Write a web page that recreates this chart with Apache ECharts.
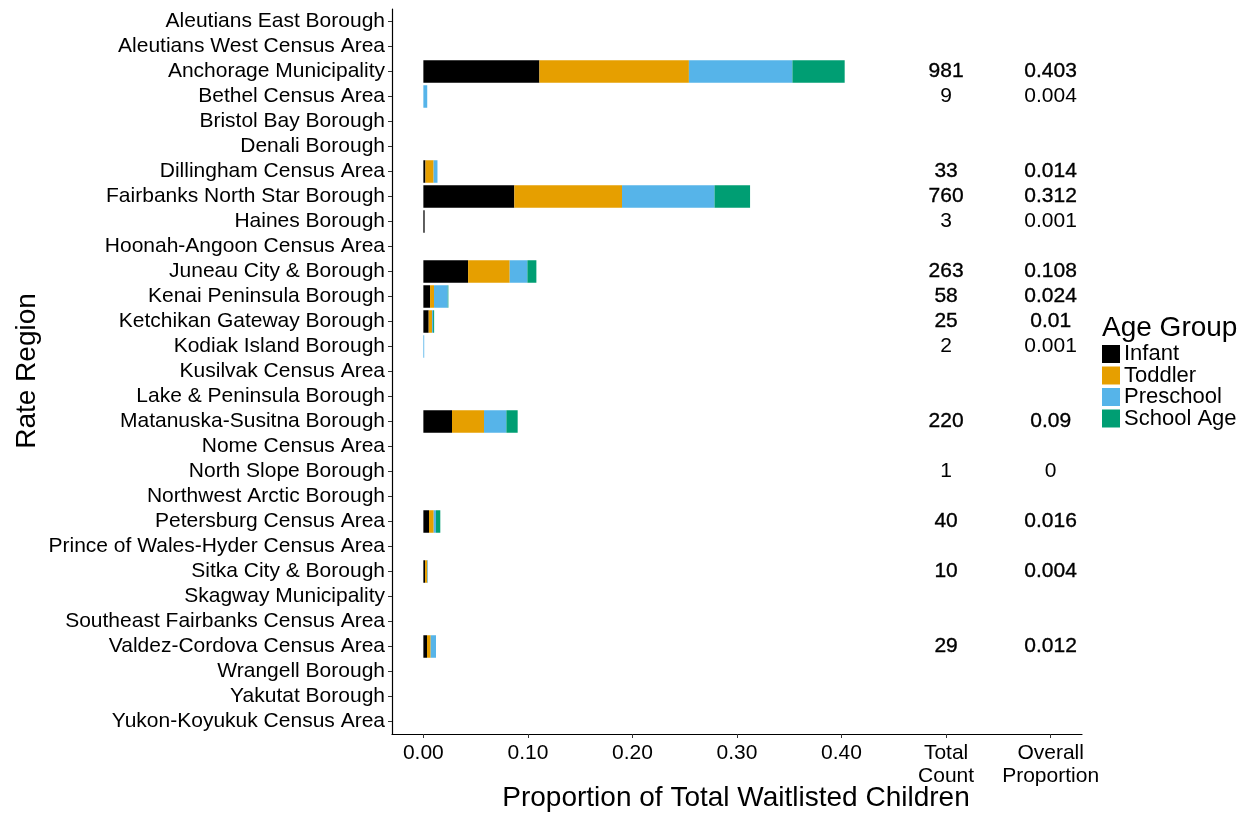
<!DOCTYPE html>
<html>
<head>
<meta charset="utf-8">
<script src="https://cdn.jsdelivr.net/npm/echarts@6/dist/echarts.min.js"></script>
<style>html,body{margin:0;padding:0;background:#fff}#c{width:1251px;height:814px}</style>
</head>
<body>
<div id="c"></div>
<script>
const regions = ["Aleutians East Borough","Aleutians West Census Area","Anchorage Municipality","Bethel Census Area","Bristol Bay Borough","Denali Borough","Dillingham Census Area","Fairbanks North Star Borough","Haines Borough","Hoonah-Angoon Census Area","Juneau City & Borough","Kenai Peninsula Borough","Ketchikan Gateway Borough","Kodiak Island Borough","Kusilvak Census Area","Lake & Peninsula Borough","Matanuska-Susitna Borough","Nome Census Area","North Slope Borough","Northwest Arctic Borough","Petersburg Census Area","Prince of Wales-Hyder Census Area","Sitka City & Borough","Skagway Municipality","Southeast Fairbanks Census Area","Valdez-Cordova Census Area","Wrangell Borough","Yakutat Borough","Yukon-Koyukuk Census Area"];
const ageGroups = ["Infant","Toddler","Preschool","School Age"];
const infant    = [null,null,0.111,null,null,null,0.002,0.087,0.0012,null,0.0428,0.0064,0.0051,null,null,null,0.0274,null,null,null,0.0054,null,0.0016,null,null,0.0035,null,null,null];
const toddler   = [null,null,0.143,null,null,null,0.0078,0.103,null,null,0.0398,0.0038,0.0032,null,null,null,0.0306,null,null,null,0.0045,null,0.0022,null,null,0.0035,null,null,null];
const preschool = [null,null,0.099,0.0037,null,null,0.0037,0.0885,null,null,0.0169,0.0131,0.001,0.0008,null,null,0.0214,null,null,null,0.0022,null,0.0006,null,null,0.0051,null,null,null];
const schoolAge = [null,null,0.050,null,null,null,null,0.034,null,null,0.0086,0.0006,0.001,null,null,null,0.0108,null,null,null,0.0041,null,null,null,null,null,null,null,null];
const totalCount = [null,null,981,9,null,null,33,760,3,null,263,58,25,2,null,null,220,null,1,null,40,null,10,null,null,29,null,null,null];
const overallProp = [null,null,"0.403","0.004",null,null,"0.014","0.312","0.001",null,"0.108","0.024","0.01","0.001",null,null,"0.09",null,"0",null,"0.016",null,"0.004",null,null,"0.012",null,null,null];
const xTicks = [0,0.1,0.2,0.3,0.4,0.5,0.6];
const xTickLabels = ["0.00","0.10","0.20","0.30","0.40","Total\nCount","Overall\nProportion"];
const colors = ["#000000","#E69F00","#56B4E9","#009E73"];

const FONT = "Liberation Sans";
const seriesVals = [infant,toddler,preschool,schoolAge];
const nGroups = regions.map((r,i)=>seriesVals.filter(s=>s[i]!=null && s[i]>0).length);

function textSeries(xv, vals){
  const data = [];
  regions.forEach((r,i)=>{
    if (vals[i]==null) return;
    const bold = nGroups[i] >= 2;
    data.push({value:[xv, r], txt:String(vals[i]),
      label:{color:'#000', textBorderColor:'#000', textBorderWidth: bold?0.35:0}});
  });
  return {
    type:'scatter', data, symbolSize:1, itemStyle:{color:'transparent', opacity:1}, silent:true,
    label:{show:true, position:'inside', formatter:p=>p.data.txt, color:'#000', opacity:1, fontFamily:FONT, fontSize:21},
    z:5
  };
}

const chart = echarts.init(document.getElementById('c'), null, {renderer:'canvas'});
const series = ageGroups.map((g,k)=>({
  name:g, type:'bar', stack:'a', data:seriesVals[k], barWidth:'90%',
  itemStyle:{color:colors[k]}, emphasis:{disabled:true}
}));
series.push(textSeries(0.5, totalCount));
series.push(textSeries(0.6, overallProp));

chart.setOption({
  animation:false,
  backgroundColor:'#fff',
  textStyle:{fontFamily:FONT},
  grid:{left:392, width:690, top:9, height:725, containLabel:false, outerBoundsMode:'none'},
  legend:{
    data:ageGroups, orient:'vertical', left:1102, top:343, itemWidth:18, itemHeight:18, itemGap:-0.5,
    icon:'rect', padding:0, selectedMode:false,
    textStyle:{fontFamily:FONT, fontSize:22, color:'#000', padding:[0,0,0,-1]}
  },
  xAxis:{
    type:'value', min:-0.03, max:0.63,
    splitLine:{show:false},
    axisLine:{show:true, onZero:false, lineStyle:{color:'#000', width:1.2}},
    axisTick:{show:true, length:4, customValues:xTicks, lineStyle:{color:'#333'}},
    axisLabel:{customValues:xTicks, margin:8, color:'#000', fontFamily:FONT, fontSize:21, lineHeight:23,
      formatter:v=>{const i=xTicks.findIndex(t=>Math.abs(t-v)<1e-6); return i>=0?xTickLabels[i]:'';}}
  },
  yAxis:{
    type:'category', data:regions, inverse:true,
    axisLine:{show:true, onZero:false, lineStyle:{color:'#000', width:1.2}},
    axisTick:{show:true, length:4, alignWithLabel:true, lineStyle:{color:'#333'}},
    axisLabel:{margin:7, color:'#000', fontFamily:FONT, fontSize:21, interval:0},
    splitLine:{show:false}
  },
  graphic:[
    {type:'text', x:27, y:371, rotation:Math.PI/2, style:{text:'Rate Region', font:'28px "Liberation Sans"', fill:'#000', align:'center', verticalAlign:'middle'}},
    {type:'text', x:736, y:798, style:{text:'Proportion of Total Waitlisted Children', font:'28px "Liberation Sans"', fill:'#000', align:'center', verticalAlign:'middle'}},
    {type:'text', x:1102, y:328, style:{text:'Age Group', font:'28px "Liberation Sans"', fill:'#000', align:'left', verticalAlign:'middle'}}
  ],
  series
});
</script>
</body>
</html>
